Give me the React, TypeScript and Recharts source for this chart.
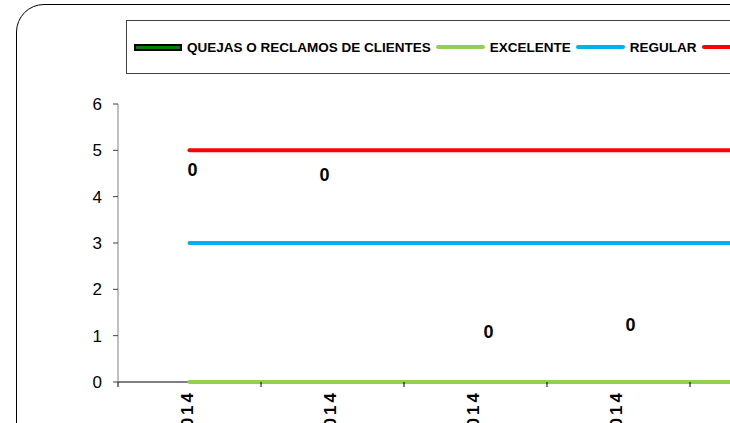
import { ComposedChart, Bar, Line, XAxis, YAxis, Legend, LabelList } from "recharts"

const meses = ["ENERO 2014", "FEBRERO 2014", "MARZO 2014", "ABRIL 2014", "MAYO 2014"]
const quejas = [0, 0, 0, 0, 0]
const excelente = [0, 0, 0, 0, 0]
const regular = [3, 3, 3, 3, 3]
const malo = [5, 5, 5, 5, 5]
const yTicks = [0, 1, 2, 3, 4, 5, 6]
const legendOrder = ["QUEJAS O RECLAMOS DE CLIENTES", "EXCELENTE", "REGULAR", "MALO"]

const data = meses.map((mes, i) => ({
  mes,
  quejas: quejas[i],
  excelente: excelente[i],
  regular: regular[i],
  malo: malo[i],
}))

// layout
const W = 833
const H = 500
const YAXIS_W = 118
const band = (W - YAXIS_W) / meses.length
const font = "'Liberation Sans', Arial, sans-serif"

// the "0" labels were dragged around by hand in the original
const labelNudge: [number, number][] = [
  [3, -212],
  [-8, -207],
  [13, -50],
  [12, -57],
  [0, -60],
]

function QuejaLabel(props: any) {
  const { x, y, value, index } = props
  const [dx, dy] = labelNudge[index] ?? [0, -60]
  return (
    <text
      x={Number(x) + dx}
      y={Number(y) + dy}
      textAnchor="middle"
      dominantBaseline="central"
      fontSize={18}
      fontWeight="bold"
      fontFamily={font}
      fill="#000"
    >
      {value}
    </text>
  )
}

function MesTick(props: any) {
  const { x, y, payload, index } = props
  const top = y - 5
  const last = index === meses.length - 1
  const tx = x - 2
  const ty = y + 3
  return (
    <g>
      <line x1={x - band / 2} x2={x - band / 2} y1={top} y2={top + 5} stroke="#000" />
      {last && <line x1={x + band / 2} x2={x + band / 2} y1={top} y2={top + 5} stroke="#000" />}
      <text
        x={tx}
        y={ty}
        transform={`rotate(-90, ${tx}, ${ty})`}
        textAnchor="end"
        dominantBaseline="central"
        fontSize={17}
        letterSpacing={3}
        fontWeight="bold"
        fontFamily={font}
        fill="#000"
      >
        {payload.value}
      </text>
    </g>
  )
}

function LegendBox(props: any) {
  const items = [...(props.payload ?? [])].sort(
    (a: any, b: any) => legendOrder.indexOf(a.value) - legendOrder.indexOf(b.value)
  )
  return (
    <div
      style={{
        boxSizing: "border-box",
        height: 54,
        border: "1px solid #404040",
        background: "#fff",
        display: "flex",
        alignItems: "center",
        paddingLeft: 7,
        whiteSpace: "nowrap",
        fontFamily: font,
        fontSize: 13.5,
        fontWeight: "bold",
        color: "#000",
      }}
    >
      {items.map((it: any) => (
        <span key={it.value} style={{ display: "inline-flex", alignItems: "center", marginRight: 5 }}>
          {it.type === "rect" ? (
            <span
              style={{
                display: "inline-block",
                boxSizing: "border-box",
                width: 48,
                height: 7,
                background: "#008000",
                border: "2px solid #000",
                marginRight: 5,
              }}
            />
          ) : (
            <span
              style={{
                display: "inline-block",
                width: 49,
                height: 4,
                borderRadius: 2,
                background: it.color,
                marginRight: 5,
              }}
            />
          )}
          {it.value}
        </span>
      ))}
    </div>
  )
}

export default function App() {
  return (
    <div
      style={{
        position: "absolute",
        left: 0,
        top: 0,
        width: 730,
        height: 423,
        overflow: "hidden",
        background: "#fff",
      }}
    >
      <div
        style={{
          position: "absolute",
          left: 16,
          top: 4,
          width: 1000,
          height: 1000,
          border: "1px solid #000",
          borderRadius: 28,
        }}
      />
      <div style={{ position: "absolute", left: 0, top: 0 }}>
        <ComposedChart
          width={W}
          height={H}
          data={data}
          margin={{ top: 104, right: 0, bottom: 0, left: 0 }}
          style={{ fontFamily: font }}
        >
          <XAxis
            dataKey="mes"
            height={118}
            interval={0}
            tickSize={5}
            tickMargin={0}
            tickLine={false}
            axisLine={{ stroke: "#000" }}
            tick={(p: any) => <MesTick {...p} />}
          />
          <YAxis
            width={YAXIS_W}
            domain={[0, 6]}
            ticks={yTicks}
            interval={0}
            tickSize={5}
            tickMargin={11}
            axisLine={{ stroke: "#808080" }}
            tickLine={{ stroke: "#404040" }}
            tick={{ fill: "#000", fontSize: 17, fontFamily: font }}
          />
          <Legend
            layout="horizontal"
            verticalAlign="middle"
            align="center"
            wrapperStyle={{ left: 126, top: 20, width: 800, height: 54 }}
            content={(p: any) => <LegendBox {...p} />}
          />
          <Bar
            dataKey="quejas"
            name="QUEJAS O RECLAMOS DE CLIENTES"
            fill="#008000"
            stroke="#000"
            legendType="rect"
            isAnimationActive={false}
          />
          <Line
            dataKey="excelente"
            name="EXCELENTE"
            stroke="#92D050"
            strokeWidth={4}
            strokeLinecap="round"
            dot={false}
            activeDot={false}
            zIndex={600}
            isAnimationActive={false}
          >
            {/* the bar values sit on the zero line, so their labels ride on this series' points */}
            <LabelList dataKey="quejas" content={(p: any) => <QuejaLabel {...p} />} />
          </Line>
          <Line
            dataKey="regular"
            name="REGULAR"
            stroke="#00B0F0"
            strokeWidth={4}
            strokeLinecap="round"
            dot={false}
            activeDot={false}
            zIndex={600}
            isAnimationActive={false}
          />
          <Line
            dataKey="malo"
            name="MALO"
            stroke="#FF0000"
            strokeWidth={4}
            strokeLinecap="round"
            dot={false}
            activeDot={false}
            zIndex={600}
            isAnimationActive={false}
          />
        </ComposedChart>
      </div>
    </div>
  )
}
